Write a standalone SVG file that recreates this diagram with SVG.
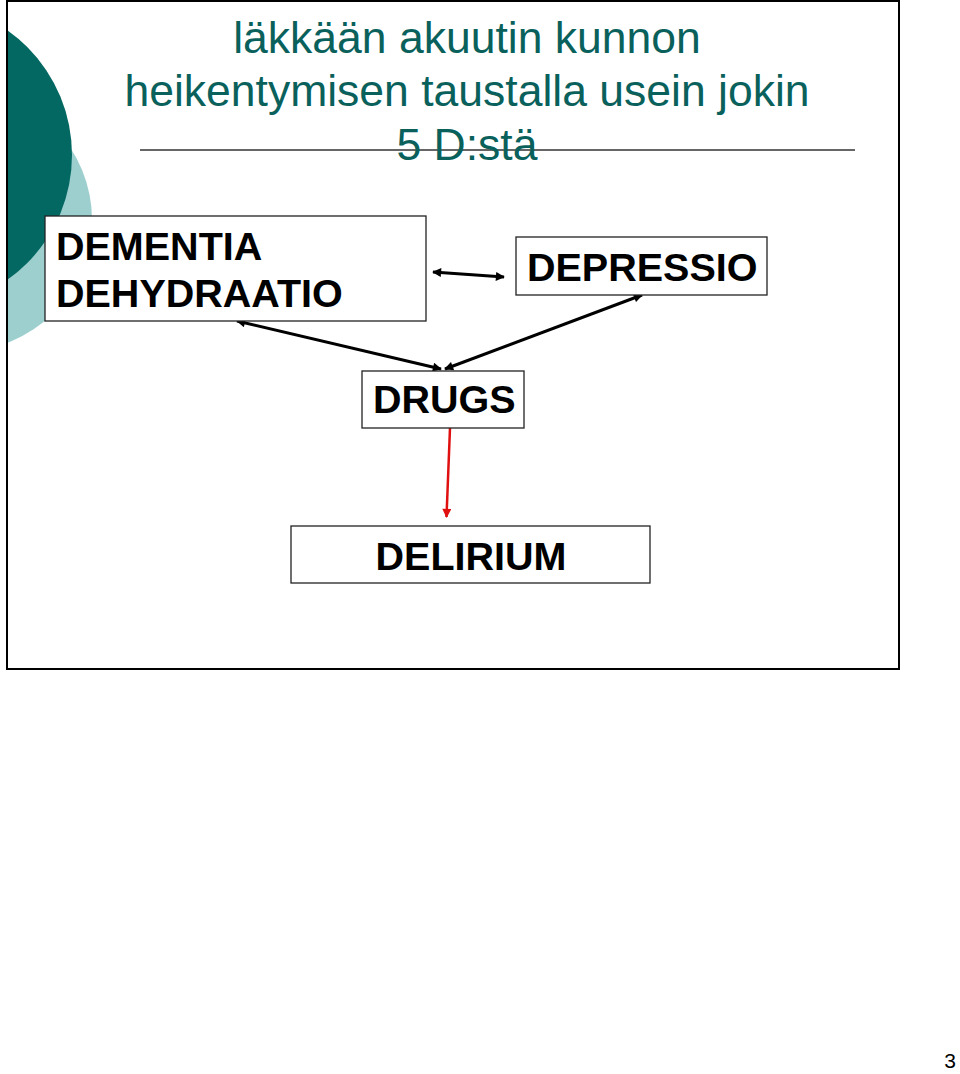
<svg xmlns="http://www.w3.org/2000/svg" width="960" height="1074" viewBox="0 0 960 1074">
<defs>
<style>
.title{font-family:"Liberation Sans",Arial,sans-serif;font-size:44.5px;fill:#0a615c;text-anchor:middle}
.lbl{font-family:"Liberation Sans",Arial,sans-serif;font-size:39.5px;font-weight:bold;fill:#000}
.box{fill:#fff;stroke:#222;stroke-width:1.3}
.conn{stroke:#000;stroke-width:3;fill:none}
.red{stroke:#e01010;stroke-width:2.5;fill:none}
</style>
<clipPath id="slide"><rect x="8" y="2" width="890" height="666"/></clipPath>
<marker id="ah" viewBox="0 0 10 10" refX="9" refY="5" markerWidth="11" markerHeight="9" markerUnits="userSpaceOnUse" orient="auto-start-reverse">
<path d="M0,0 L10,5 L0,10 z" fill="#000"/>
</marker>
<marker id="ahr" viewBox="0 0 10 10" refX="9" refY="5" markerWidth="11" markerHeight="9" markerUnits="userSpaceOnUse" orient="auto">
<path d="M0,0 L10,5 L0,10 z" fill="#e01010"/>
</marker>
</defs>
<rect width="960" height="1074" fill="#fff"/>
<g id="background" clip-path="url(#slide)">
<circle cx="-39.5" cy="220" r="131.5" fill="#9dcfcf"/>
<circle cx="-80.7" cy="155" r="152.7" fill="#036862"/>
</g>
<rect id="frame" x="7" y="1" width="892" height="668" fill="none" stroke="#000" stroke-width="2"/>
<g id="title">
<text class="title" x="467" y="53">läkkään akuutin kunnon</text>
<text class="title" x="467" y="106">heikentymisen taustalla usein jokin</text>
<line x1="140" y1="150" x2="855" y2="150" stroke="#333" stroke-width="1.5"/>
<text class="title" x="467" y="160">5 D:stä</text>
</g>
<g id="connectors">
<line class="conn" x1="433" y1="272" x2="504" y2="277" marker-start="url(#ah)" marker-end="url(#ah)"/>
<line class="conn" x1="237" y1="321" x2="441" y2="369" marker-start="url(#ah)" marker-end="url(#ah)"/>
<line class="conn" x1="642" y1="295" x2="445" y2="369" marker-start="url(#ah)" marker-end="url(#ah)"/>
<line class="red" x1="450" y1="428" x2="446.5" y2="517" marker-end="url(#ahr)"/>
</g>
<g id="node-dementia">
<rect class="box" x="45" y="216" width="381" height="105"/>
<text class="lbl" x="56" y="260">DEMENTIA</text>
<text class="lbl" x="56" y="307">DEHYDRAATIO</text>
</g>
<g id="node-depressio">
<rect class="box" x="516" y="237" width="251" height="58"/>
<text class="lbl" x="527" y="281">DEPRESSIO</text>
</g>
<g id="node-drugs">
<rect class="box" x="362" y="371" width="162" height="57"/>
<text class="lbl" x="373" y="413">DRUGS</text>
</g>
<g id="node-delirium">
<rect class="box" x="291" y="526" width="359" height="57"/>
<text class="lbl" x="471" y="570" text-anchor="middle">DELIRIUM</text>
</g>
<text id="page" x="950" y="1068" text-anchor="middle" font-family="Liberation Sans, Arial, sans-serif" font-size="21" fill="#000">3</text>
</svg>
